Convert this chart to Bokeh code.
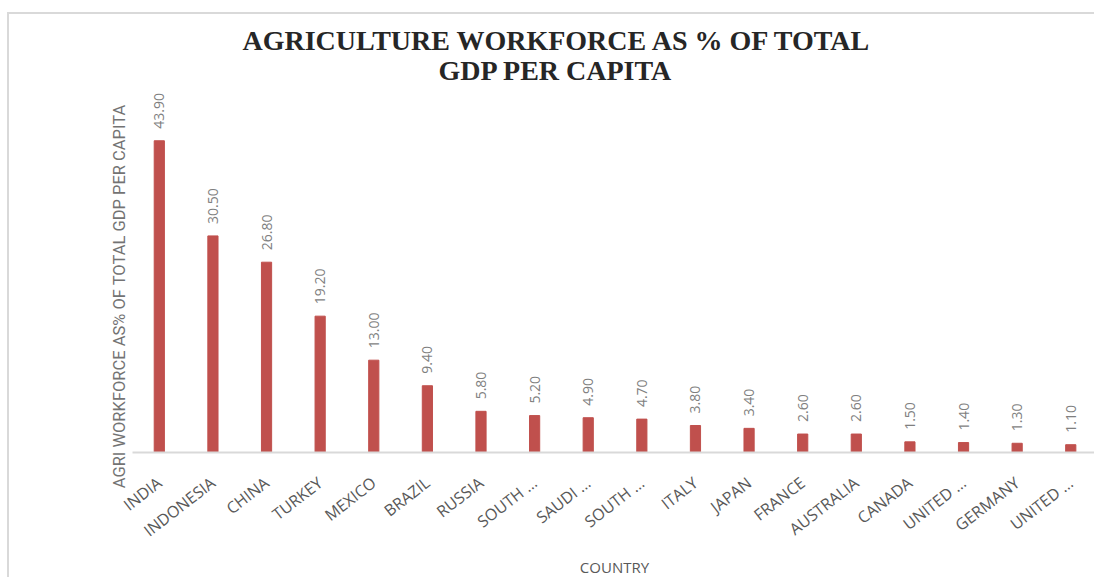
import math
from bokeh.plotting import figure
from bokeh.models import Range1d, FixedTicker, Title
from bokeh.embed import file_html
from bokeh.resources import INLINE
from bokeh.core.properties import value

countries = ["INDIA", "INDONESIA", "CHINA", "TURKEY", "MEXICO", "BRAZIL", "RUSSIA",
             "SOUTH …", "SAUDI …", "SOUTH …", "ITALY", "JAPAN", "FRANCE", "AUSTRALIA",
             "CANADA", "UNITED …", "GERMANY", "UNITED …"]
values = [43.90, 30.50, 26.80, 19.20, 13.00, 9.40, 5.80, 5.20, 4.90, 4.70,
          3.80, 3.40, 2.60, 2.60, 1.50, 1.40, 1.30, 1.10]
title_line1 = "AGRICULTURE WORKFORCE AS % OF TOTAL"
title_line2 = "GDP PER CAPITA"
y_label = "AGRI WORKFORCE AS% OF TOTAL GDP PER CAPITA"
x_label = "COUNTRY"

xs = list(range(len(countries)))
labels = [f"{v:.2f}" for v in values]

p = figure(width=1085, height=563, output_backend="svg", toolbar_location=None,
           x_range=Range1d(-0.5, 17.48), y_range=Range1d(0, 51.4),
           y_axis_location=None,
           min_border_left=123, min_border_right=0, min_border_top=73,
           min_border_bottom=125, title=None,
           styles={"margin-left": "7px", "margin-top": "12px", "box-sizing": "content-box",
                   "overflow": "hidden",
                   "border-left": "2px solid #d9d9d9", "border-top": "2px solid #d9d9d9"})
p.outline_line_color = None
p.xgrid.visible = False
p.ygrid.visible = False

p.vbar(x=xs, top=values, width=0.19, color="#c0504d")
p.text(x=xs, y=values, text=labels, angle=math.pi / 2, text_align="left",
       text_baseline="middle", y_offset=-12, text_font=value("Open Sans"),
       text_font_size="14px", text_color="#7f7f7f")

t2 = Title(text=title_line2, align="left", offset=306, text_font="Liberation Serif",
           text_font_size="28px", text_font_style="bold", text_color="#262626", standoff=3)
t1 = Title(text=title_line1, align="left", offset=110, text_font="Liberation Serif",
           text_font_size="28px", text_font_style="bold", text_color="#262626", standoff=-9)
p.add_layout(t2, "above")
p.add_layout(t1, "above")

ytitle = Title(text=y_label, align="right", offset=17, text_font="Roboto",
               text_font_size="16.5px", text_font_style="normal", text_color="#737373",
               standoff=8)
p.add_layout(ytitle, "left")

xa = p.xaxis[0]
xa.ticker = FixedTicker(ticks=xs)
xa.major_label_overrides = {i: c for i, c in zip(xs, countries)}
xa.major_label_orientation = 0.66
xa.major_label_text_font = "Open Sans"
xa.major_label_text_font_size = "16px"
xa.major_label_text_color = "#595959"
xa.major_label_standoff = 28
xa.major_tick_line_color = None
xa.major_tick_out = 0
xa.major_tick_in = 0
xa.minor_tick_line_color = None
xa.axis_line_color = "#d9d9d9"
xa.axis_line_width = 2
xa.axis_label = x_label
xa.axis_label_text_font = "Open Sans"
xa.axis_label_text_font_size = "15px"
xa.axis_label_text_font_style = "normal"
xa.axis_label_text_color = "#595959"
xa.axis_label_standoff = 4

open("out.html", "w").write(file_html(p, INLINE))
